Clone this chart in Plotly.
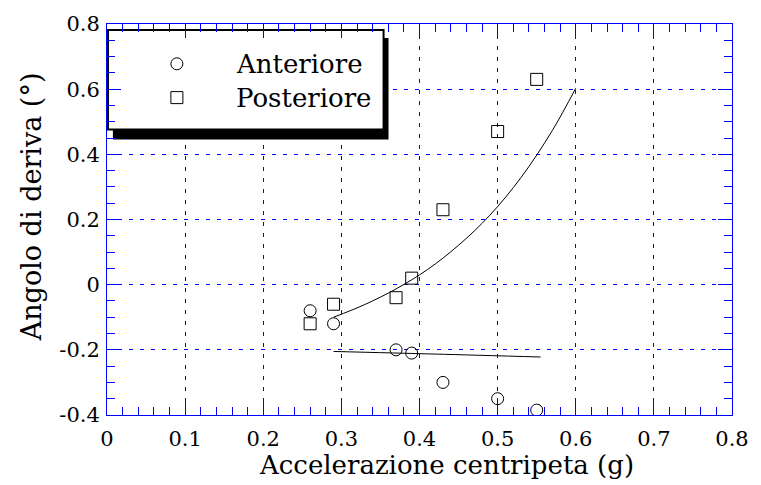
import plotly.graph_objects as go

# Lateral acceleration (g) and measured slip angles (degrees)
accel = [0.26, 0.29, 0.37, 0.39, 0.43, 0.50, 0.55]
anteriore = [-0.08, -0.12, -0.20, -0.21, -0.30, -0.35, -0.385]
posteriore = [-0.12, -0.06, -0.04, 0.02, 0.23, 0.47, 0.63]

# Fitted trend curves
fit_post_x = [0.29, 0.33, 0.37, 0.41, 0.45, 0.49, 0.53, 0.57, 0.60]
fit_post_y = [-0.100, -0.061, -0.013, 0.046, 0.121, 0.213, 0.329, 0.473, 0.603]
fit_ant_x = [0.29, 0.42, 0.555]
fit_ant_y = [-0.205, -0.213, -0.222]

x_ticks = [0, 0.1, 0.2, 0.3, 0.4, 0.5, 0.6, 0.7, 0.8]
x_labels = ["0", "0.1", "0.2", "0.3", "0.4", "0.5", "0.6", "0.7", "0.8"]
y_ticks = [-0.4, -0.2, 0, 0.2, 0.4, 0.6, 0.8]
y_labels = ["-0.4", "-0.2", "0", "0.2", "0.4", "0.6", "0.8"]

legend_names = ["Anteriore", "Posteriore"]
x_title = "Accelerazione centripeta (g)"
y_title = "Angolo di deriva (°)"

FONT = "DejaVu Serif"
BLUE = "#0000ff"
W, H = 761, 485
L, R, T, B = 107, 742, 22, 415
X0, X1 = 0.0, 0.8
Y0, Y1 = -0.4, 0.8


def px_x(p):
    """Pixel column -> x data value."""
    return X0 + (p - L) / (R - L) * (X1 - X0)


def px_y(p):
    """Pixel row -> y data value."""
    return Y1 - (p - T) / (B - T) * (Y1 - Y0)


def paper_x(p):
    return (p - L) / (R - L)


def paper_y(p):
    return (B - p) / (B - T)


fig = go.Figure()

fig.add_trace(go.Scatter(x=fit_post_x, y=fit_post_y, mode="lines",
                         line=dict(color="black", width=1, shape="spline"),
                         showlegend=False, hoverinfo="skip"))
fig.add_trace(go.Scatter(x=fit_ant_x, y=fit_ant_y, mode="lines",
                         line=dict(color="black", width=1, shape="spline"),
                         showlegend=False, hoverinfo="skip"))
fig.add_trace(go.Scatter(x=accel, y=anteriore, mode="markers", name=legend_names[0],
                         marker=dict(symbol="circle-open", size=12,
                                     color="black", line=dict(width=1)),
                         showlegend=False))
fig.add_trace(go.Scatter(x=accel, y=posteriore, mode="markers", name=legend_names[1],
                         marker=dict(symbol="square-open", size=12,
                                     color="black", line=dict(width=1)),
                         showlegend=False))

# Key: symbols, shadowed white box and labels
fig.add_trace(go.Scatter(x=[px_x(178), px_x(178)], y=[px_y(62), px_y(96)], mode="markers",
                         showlegend=False, hoverinfo="skip", cliponaxis=False,
                         marker=dict(symbol=["circle-open", "square-open"], size=12,
                                     color="black", line=dict(width=1))))

fig.add_shape(type="rect", xref="x", yref="y",
              x0=px_x(113), y0=px_y(138), x1=px_x(393), y1=px_y(36),
              fillcolor="black", line=dict(width=0), layer="between")
fig.add_shape(type="rect", xref="x", yref="y",
              x0=px_x(108), y0=px_y(128), x1=px_x(388), y1=px_y(28),
              fillcolor="white", line=dict(color="black", width=2), layer="between")

for name, yy in zip(legend_names, [62, 96]):
    fig.add_annotation(x=px_x(236), y=px_y(yy), xref="x", yref="y", text=name,
                       showarrow=False, xanchor="left", yanchor="middle",
                       font=dict(family=FONT, size=26, color="black"))

# Axis titles
fig.add_annotation(x=paper_x(452), y=paper_y(465), xref="paper", yref="paper",
                   text=x_title, showarrow=False, xanchor="center", yanchor="middle",
                   font=dict(family=FONT, size=26, color="black"))
fig.add_annotation(x=paper_x(30), y=paper_y(206), xref="paper", yref="paper",
                   text=y_title, showarrow=False, textangle=-90,
                   xanchor="center", yanchor="middle",
                   font=dict(family=FONT, size=27, color="black"))

axis_common = dict(
    showline=True, linecolor=BLUE, linewidth=1, mirror="allticks",
    ticks="inside", tickcolor=BLUE, ticklen=14, tickwidth=1,
    showgrid=True, gridcolor=BLUE, gridwidth=1, griddash="4px,7px",
    zeroline=False,
    tickfont=dict(family=FONT, size=21, color="black"),
)

fig.update_layout(
    width=W, height=H,
    margin=dict(l=L, r=W - R, t=T, b=H - B),
    paper_bgcolor="white", plot_bgcolor="white",
    showlegend=False,
    font=dict(family=FONT, color="black"),
    xaxis=dict(range=[X0, X1], tickvals=x_ticks, ticktext=x_labels,
               ticklabelstandoff=5,
               minor=dict(dtick=0.02, ticks="inside", ticklen=8, tickcolor=BLUE, showgrid=False),
               **axis_common),
    yaxis=dict(range=[Y0, Y1], tickvals=y_ticks, ticktext=y_labels,
               ticklabelstandoff=2,
               minor=dict(dtick=0.05, tick0=0, ticks="inside", ticklen=8, tickcolor=BLUE, showgrid=False),
               **axis_common),
)

fig.write_html("out.html")
